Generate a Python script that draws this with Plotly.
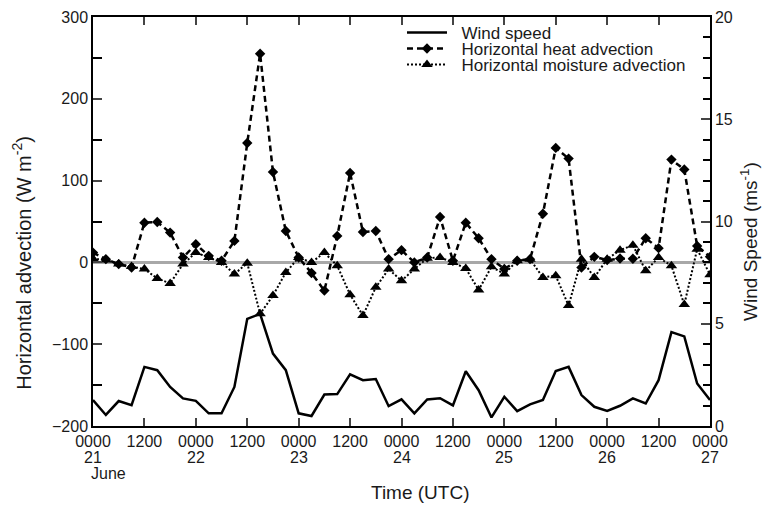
import plotly.graph_objects as go

# time axis: hours since 0000 UTC 21 June, 3-hourly
hours = list(range(0, 145, 3))

heat_adv = [12.0, 4.0, -2.1, -6.2, 48.5, 49.4, 36.4, 6.0, 22.3, 8.0,
            2.0, 26.3, 146.0, 255.0, 110.6, 38.4, 6.0, -13.0, -34.5, 32.4,
            109.4, 37.2, 38.4, 4.0, 15.0, 0.0, 6.0, 55.5, 2.0, 48.5,
            29.6, 4.0, -8.0, 2.0, 4.0, 59.5, 140.0, 126.9, -6.2, 6.8,
            2.8, 4.7, 4.4, 29.6, 17.4, 125.7, 113.5, 20.2, 6.8]

moist_adv = [4.4, 3.0, -2.0, -5.0, -8.2, -19.6, -25.7, -2.1, 12.0, 6.0,
             0.0, -14.2, -0.9, -62.9, -40.6, -12.3, 6.0, 0.0, 12.0, -4.1,
             -39.4, -65.0, -30.5, -8.2, -22.4, -8.2, 5.2, 6.0, 0.0, -7.4,
             -33.7, -5.4, -14.2, 2.0, 4.0, -18.4, -16.3, -52.8, 4.0, -18.4,
             4.0, 15.0, 21.0, -10.2, 6.0, -4.1, -51.6, 16.2, -15.1]

wind_speed = [1.27, 0.54, 1.22, 1.02, 2.89, 2.73, 1.91, 1.35, 1.23, 0.62,
              0.62, 1.91, 5.24, 5.48, 3.54, 2.73, 0.62, 0.49, 1.54, 1.56,
              2.53, 2.24, 2.30, 0.97, 1.30, 0.62, 1.30, 1.36, 1.01, 2.68,
              1.75, 0.42, 1.43, 0.73, 1.06, 1.27, 2.69, 2.89, 1.51, 0.94,
              0.74, 0.99, 1.35, 1.10, 2.24, 4.59, 4.38, 2.08, 1.27]

tick_hours = list(range(0, 145, 12))
tick_labels = ["0000", "1200"] * 6 + ["0000"]
day_hours = [0, 24, 48, 72, 96, 120, 144]
day_labels = ["21", "22", "23", "24", "25", "26", "27"]
month_label = "June"

FONT = "Liberation Sans, Arial, Helvetica, sans-serif"
TXT = "#1a1a1a"
PAD = "\u00a0\u00a0"
TITLE_SIZE = 19

fig = go.Figure()

fig.add_trace(go.Scatter(
    x=hours, y=wind_speed, yaxis="y2", name=PAD + "Wind speed", mode="lines",
    line=dict(color="black", width=2.5), legend="legend"))

fig.add_trace(go.Scatter(
    x=hours, y=heat_adv, name=PAD + "Horizontal heat advection", mode="lines+markers",
    line=dict(color="black", width=2.5, dash="6px,4px"),
    marker=dict(symbol="diamond", size=8, color="black"), legend="legend2"))

fig.add_trace(go.Scatter(
    x=hours, y=moist_adv, name=PAD + "Horizontal moisture advection", mode="lines+markers",
    line=dict(color="black", width=2, dash="2px,2px"),
    marker=dict(symbol="triangle-up", size=10, color="black"), legend="legend3"))

leg_common = dict(x=0.5008, xanchor="left", yanchor="middle", bgcolor="rgba(0,0,0,0)",
                  font=dict(size=17, color=TXT), itemwidth=40, borderwidth=0)

annotations = []
for h, d in zip(day_hours, day_labels):
    annotations.append(dict(x=h, y=-0.078, xref="x", yref="paper", text=d, showarrow=False,
                            xanchor="center", yanchor="middle", font=dict(size=16, color=TXT)))
annotations.append(dict(x=0, y=-0.1168, xref="x", yref="paper", text=month_label, showarrow=False,
                        xanchor="left", yanchor="middle", xshift=-4, font=dict(size=16, color=TXT)))
# axis titles
annotations.append(dict(x=-0.1151, y=0.399, xref="paper", yref="paper", textangle=-90,
                        text="Horizontal advection (W m<sup>-2</sup>)", showarrow=False,
                        xanchor="center", yanchor="middle", font=dict(size=20, color=TXT)))
annotations.append(dict(x=1.0632, y=0.4526, xref="paper", yref="paper", textangle=-90,
                        text="Wind Speed (ms<sup>-1</sup>)", showarrow=False,
                        xanchor="center", yanchor="middle", font=dict(size=TITLE_SIZE, color=TXT)))
annotations.append(dict(x=0.5316, y=-0.163, xref="paper", yref="paper",
                        text="Time (UTC)", showarrow=False,
                        xanchor="center", yanchor="middle", font=dict(size=TITLE_SIZE, color=TXT)))

fig.update_layout(
    width=762, height=502,
    margin=dict(l=85, r=60, t=7, b=84),
    paper_bgcolor="white", plot_bgcolor="white",
    font=dict(family=FONT, size=16, color=TXT),
    showlegend=True,
    legend=dict(y=0.961, **leg_common),
    legend2=dict(y=0.922, **leg_common),
    legend3=dict(y=0.883, **leg_common),
    annotations=annotations,
    xaxis=dict(range=[0, 144], tickmode="array", tickvals=tick_hours,
               ticktext=tick_labels, ticks="inside", ticklen=8, tickwidth=1.5,
               showline=True, linecolor="black", linewidth=1.5, mirror="ticks",
               showgrid=False, zeroline=False, automargin=False,
               tickfont=dict(size=16, color=TXT)),
    yaxis=dict(range=[-200, 300], dtick=100, ticks="inside", ticklen=9, tickwidth=1.5,
               minor=dict(dtick=50, ticks="inside", ticklen=9, tickwidth=1.5, tickcolor="black"),
               showline=True, linecolor="black", linewidth=1.5,
               showgrid=False, zeroline=True, zerolinecolor="#a8a8a8", zerolinewidth=3,
               tickformat="d", automargin=False, tickfont=dict(size=16, color=TXT)),
    yaxis2=dict(range=[0, 20], dtick=5, overlaying="y", side="right",
                ticks="inside", ticklen=9, tickwidth=1.5,
                minor=dict(dtick=1, ticks="inside", ticklen=7, tickwidth=1.5, tickcolor="black"),
                showline=True, linecolor="black", linewidth=1.5,
                showgrid=False, zeroline=False, automargin=False,
                tickfont=dict(size=16, color=TXT)),
)

fig.write_html("out.html")
